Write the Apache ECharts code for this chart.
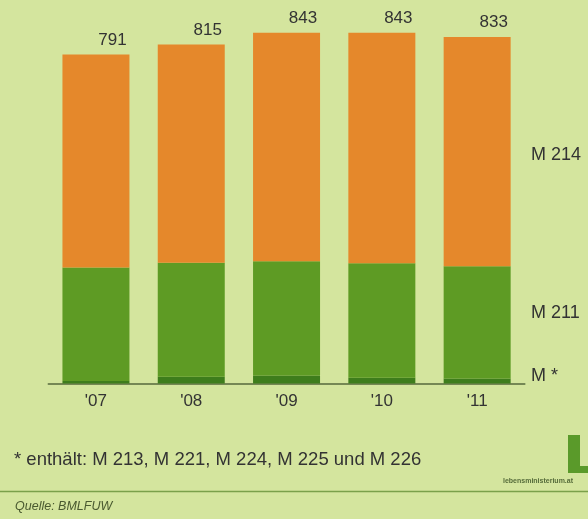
<!DOCTYPE html>
<html>
<head>
<meta charset="utf-8">
<script src="https://cdn.jsdelivr.net/npm/echarts@6/dist/echarts.min.js"></script>
<style>
  html, body { margin: 0; padding: 0; background: #d4e59e; }
  #chart { width: 588px; height: 519px; }
</style>
</head>
<body>
<div id="chart"></div>
<script>
// Jahre
var years = ["'07", "'08", "'09", "'10", "'11"]
// M * (enthält M 213, M 221, M 224, M 225, M 226)
var mStar = [6, 16, 19, 14, 12]
// M 211
var m211 = [273, 274, 275, 275, 270]
// M 214
var m214 = [512, 525, 549, 554, 551]
// Summen über den Balken
var totals = [791, 815, 843, 843, 833]

var myChart = echarts.init(document.getElementById('chart'))
var font = '"Liberation Sans", Arial, sans-serif'

var option = {
  backgroundColor: '#d4e59e',
  animation: false,
  grid: {
    left: 48.3,
    width: 476.5,
    top: 9.1,
    bottom: 135.5
  },
  xAxis: {
    type: 'category',
    data: years,
    axisLine: { lineStyle: { color: '#55683c', width: 1.5 } },
    axisTick: { show: false },
    axisLabel: { color: '#333', fontSize: 17, fontFamily: font, margin: 9 }
  },
  yAxis: {
    type: 'value',
    min: 0,
    max: 900,
    show: false
  },
  series: [
    {
      name: 'M *',
      type: 'bar',
      stack: 'a',
      barWidth: 67,
      itemStyle: { color: '#3e7d1c' },
      data: mStar
    },
    {
      name: 'M 211',
      type: 'bar',
      stack: 'a',
      barWidth: 67,
      itemStyle: { color: '#5e9b24' },
      data: m211
    },
    {
      name: 'M 214',
      type: 'bar',
      stack: 'a',
      barWidth: 67,
      itemStyle: { color: '#e5882b' },
      label: {
        show: true,
        position: 'top',
        distance: 5,
        offset: [16.5, -1],
        color: '#333',
        fontSize: 17,
        fontFamily: font,
        formatter: function (p) { return totals[p.dataIndex] }
      },
      data: m214
    }
  ],
  graphic: [
    // Serienbeschriftung rechts
    { type: 'text', left: 531, top: 146, style: { text: 'M 214', fill: '#333', font: '18px ' + font } },
    { type: 'text', left: 531, top: 304, style: { text: 'M 211', fill: '#333', font: '18px ' + font } },
    { type: 'text', left: 531, top: 367, style: { text: 'M *', fill: '#333', font: '18px ' + font } },
    // Fußnote
    { type: 'text', left: 14, top: 450, style: { text: '* enthält: M 213, M 221, M 224, M 225 und M 226', fill: '#333', font: '18.5px ' + font } },
    // Trennlinie
    { type: 'line', shape: { x1: 0, y1: 491.5, x2: 588, y2: 491.5 }, style: { stroke: '#7aa04a', lineWidth: 1.5 } },
    // Quelle
    { type: 'text', left: 15, top: 500, style: { text: 'Quelle: BMLFUW', fill: '#4a5a30', font: 'italic 12.5px ' + font } },
    // Logo
    { type: 'rect', shape: { x: 568, y: 435, width: 12, height: 38 }, style: { fill: '#5a9a2a' } },
    { type: 'rect', shape: { x: 568, y: 466, width: 20, height: 7 }, style: { fill: '#5a9a2a' } },
    { type: 'text', left: 503, top: 478, style: { text: 'lebensministerium.at', fill: '#556b3a', font: 'bold 7px ' + font } }
  ]
}
myChart.setOption(option)
</script>
</body>
</html>
